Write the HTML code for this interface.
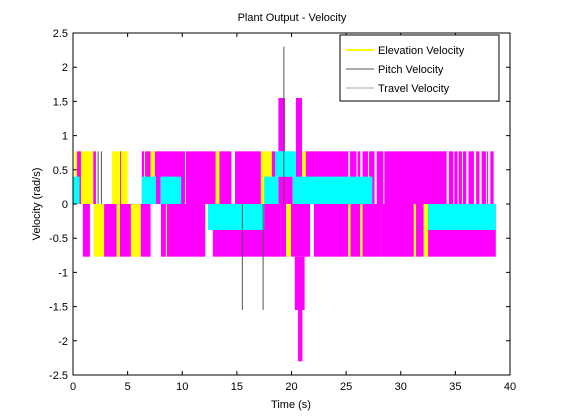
<!DOCTYPE html>
<html><head><meta charset="utf-8"><style>
body{margin:0;background:#fff;}
svg{display:block;font-family:"Liberation Sans",Arial,sans-serif;}
</style></head><body>
<svg id="chart" width="561" height="420">
<rect x="0" y="0" width="561" height="420" fill="#fff"/>
<text x="292" y="21" font-size="11" text-anchor="middle">Plant Output - Velocity</text>
<g id="marks"></g>
<rect x="73" y="33" width="437" height="342" fill="none" stroke="#000"/>
<g id="axes"></g>
<text x="291" y="408" font-size="11" text-anchor="middle">Time (s)</text>
<text transform="translate(40,204) rotate(-90)" font-size="11" text-anchor="middle">Velocity (rad/s)</text>
<g>
<rect x="340" y="35" width="159" height="66" fill="#fff" stroke="#000"/>
<g><line x1="346" y1="50" x2="374" y2="50" stroke="#ff0" stroke-width="2"/><text x="378" y="54" font-size="11">Elevation Velocity</text></g>
<g><line x1="346" y1="69" x2="374" y2="69" stroke="#555"/><text x="378" y="73" font-size="11">Pitch Velocity</text></g>
<g><line x1="346" y1="88" x2="374" y2="88" stroke="#aaa"/><text x="378" y="92" font-size="11">Travel Velocity</text></g>
</g>
</svg>
<script>
// rectangles filled between two levels over a time interval
const segStart = [0.15,0.37,0.73,1.86,3.57,4.3,4.39,4.85,6.3,6.5,6.6,7.1,7.5,10.34,13.06,13.4,14.83,17.2,18.2,21.3,25.35,26.05,26.5,27.1,27.8,28.5,34.4,34.9,35.3,35.7,36.2,36.9,37.4,37.9,38.2,
 0.9,1.9,2.85,4.0,4.3,5.3,6.2,8.05,8.5,12.8,19.0,19.5,19.95,22.05,25.2,25.4,26.3,26.5,28.2,31.2,31.4,32.1,32.5,
 18.8,0.0,6.3,8.0,17.5,18.5,18.95,20.1,12.35,32.5,
 18.8,20.4,20.96,20.3,20.6];
const segEnd   = [0.37,0.73,1.86,2.1,4.3,4.39,4.85,5.0,6.5,6.6,7.1,7.5,10.25,13.06,13.4,14.5,17.2,18.2,18.5,25.2,25.95,26.3,27.0,27.6,28.4,34.2,34.8,35.2,35.6,36.0,36.7,37.2,37.8,38.0,38.5,
 1.55,2.85,4.0,4.3,5.3,6.2,7.1,12.1,8.6,19.0,19.5,19.95,21.7,25.2,25.4,26.3,26.5,28.2,31.2,31.4,32.1,32.5,38.7,
 20.1,0.6,7.6,9.9,18.8,19.9,20.4,27.4,17.5,38.7,
 19.4,20.96,21.3,21.2,21.0];
const segLo    = [0,0,0,0,0,0,0,0,0,0,0,0,0,0,0,0,0,0,0,0,0,0,0,0,0,0,0,0,0,0,0,0,0,0,0,
 -0.77,-0.77,-0.77,-0.77,-0.77,-0.77,-0.77,-0.77,-0.77,-0.77,-0.77,-0.77,-0.77,-0.77,-0.77,-0.77,-0.77,-0.77,-0.77,-0.77,-0.77,-0.77,-0.77,
 0,0,0,0,0,0.4,0.4,0,-0.38,-0.38,
 0.77,0,0,-1.55,-2.3];
const segHi    = [0.77,0.77,0.77,0.77,0.77,0.77,0.77,0.77,0.77,0.77,0.77,0.77,0.77,0.77,0.77,0.77,0.77,0.77,0.77,0.77,0.77,0.77,0.77,0.77,0.77,0.77,0.77,0.77,0.77,0.77,0.77,0.77,0.77,0.77,0.77,
 0,0,0,0,0,0,0,0,0,0,0,0,0,0,0,0,0,0,0,0,0,0,0,
 0.4,0.4,0.4,0.4,0.4,0.77,0.77,0.4,0,0,
 1.55,1.55,0.77,-0.77,-1.55];
const segColor = ["Y","M","Y","M","Y","M","Y","Y","M","Y","M","Y","M","M","Y","M","M","Y","M","M","M","M","M","M","M","M","M","M","M","M","M","M","M","M","M",
 "M","Y","M","Y","M","Y","M","M","Y","M","M","Y","M","M","Y","M","Y","M","M","Y","M","Y","M",
 "M","C","C","C","C","C","C","C","C","C",
 "M","M","Y","M","M"];
const spikeT = [15.5,17.4,19.3,2.3,2.6];
const spikeV = [-1.55,-1.55,2.3,0.77,0.77];
const xTicks = [0,5,10,15,20,25,30,35,40];
const yTicks = [2.5,2,1.5,1,0.5,0,-0.5,-1,-1.5,-2,-2.5];
const NS="http://www.w3.org/2000/svg";
const X=t=>73+t*(437/40), Y=v=>204-v*(342/5);
const col={Y:"#ffff00",M:"#ff00ff",C:"#00ffff"};
const g=document.getElementById("marks");
["A","C"].forEach(pass=>{
 for(let i=0;i<segStart.length;i++){
  const c=segColor[i];
  if((pass==="C")!==(c==="C"))continue;
  const r=document.createElementNS(NS,"rect");
  r.setAttribute("x",X(segStart[i]));r.setAttribute("width",Math.max(1,X(segEnd[i])-X(segStart[i])));
  r.setAttribute("y",Y(segHi[i]));r.setAttribute("height",Y(segLo[i])-Y(segHi[i]));
  r.setAttribute("fill",col[c]);
  
  
  g.appendChild(r);
 }
});
for(let i=0;i<spikeT.length;i++){
 const l=document.createElementNS(NS,"line");
 l.setAttribute("x1",X(spikeT[i]));l.setAttribute("x2",X(spikeT[i]));
 l.setAttribute("y1",Y(0));l.setAttribute("y2",Y(spikeV[i]));
 l.setAttribute("stroke","#555");
 
 
 g.appendChild(l);
}
const a=document.getElementById("axes");
xTicks.forEach(t=>{
 const x=X(t);
 const l=document.createElementNS(NS,"path");
 l.setAttribute("d",`M${x} 375V371M${x} 33V37`);l.setAttribute("stroke","#000");
 
 
 a.appendChild(l);
 const tx=document.createElementNS(NS,"text");
 tx.setAttribute("x",x);tx.setAttribute("y",390);tx.setAttribute("font-size","11");tx.setAttribute("text-anchor","middle");
 tx.textContent=t;
 
 
 a.appendChild(tx);
});
yTicks.forEach(v=>{
 const y=Y(v);
 const l=document.createElementNS(NS,"path");
 l.setAttribute("d",`M73 ${y}H77M510 ${y}H506`);l.setAttribute("stroke","#000");
 
 
 a.appendChild(l);
 const tx=document.createElementNS(NS,"text");
 tx.setAttribute("x",68);tx.setAttribute("y",y+4);tx.setAttribute("font-size","11");tx.setAttribute("text-anchor","end");
 tx.textContent=v;
 
 
 a.appendChild(tx);
});
</script>
</body></html>
